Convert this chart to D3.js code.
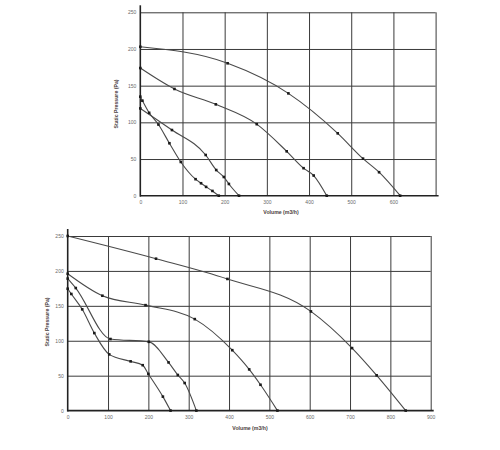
<!DOCTYPE html>
<html>
<head>
<meta charset="utf-8">
<script src="https://cdn.jsdelivr.net/npm/d3@7"></script>
<style>
  html, body { margin: 0; padding: 0; background: #fff; }
  svg { display: block; }
  .tick text { font-family: "Liberation Sans", Arial, sans-serif; }
</style>
</head>
<body>
<svg id="chart" width="500" height="450"></svg>
<script>
// ---------- Data (Volume m3/h, Static Pressure Pa) ----------
// Top chart
const topXTicks = [0, 100, 200, 300, 400, 500, 600];
const topXGrid = [100, 200, 300, 400, 500, 600, 700];
const topYTicks = [0, 50, 100, 150, 200, 250];
const topCurveA = [[0, 203], [207, 180.5], [351, 139.5], [468, 85], [528, 50.5], [566, 32], [616, 0]];
const topCurveB = [[0, 174], [81, 145.5], [179, 124.5], [276, 97.5], [347, 60.5], [387, 37.5], [411, 27.5], [442, 0]];
const topCurveC = [[0, 119], [75, 89.5], [155, 55.5], [180, 35], [198, 25.5], [210, 16], [234, 0]];
const topCurveD = [[0, 135], [5, 129.5], [21, 113], [43, 97], [69, 71.5], [96, 46], [131, 22.5], [144, 17], [156, 12], [171, 6.5], [186, 0]];

// Bottom chart
const botXTicks = [0, 100, 200, 300, 400, 500, 600, 700, 800, 900];
const botXGrid = [100, 200, 300, 400, 500, 600, 700, 800, 900];
const botYTicks = [0, 50, 100, 150, 200, 250];
const botCurve1 = [[0, 250], [219, 217.5], [396, 188.5], [603, 142], [705, 89.5], [766, 50.5], [838, 0]];
const botCurve2 = [[0, 196], [86, 164.5], [193, 151], [315, 131], [408, 86.5], [450, 59], [478, 37], [520, 0]];
const botCurve3 = [[0, 189], [20, 175.5], [106, 102.5], [201, 98.5], [250, 69], [273, 51], [290, 39.5], [319, 0]];
const botCurve4 = [[0, 174.5], [9, 167], [36, 145], [66, 111], [103, 80.5], [156, 70.5], [186, 65], [200, 52.5], [236, 20], [255, 0]];

const yTitle = "Static Pressure (Pa)";
const xTitle = "Volume (m3/h)";

// ---------- Drawing ----------
const svg = d3.select("#chart");
const FONT = "'Liberation Sans', Arial, sans-serif";

function drawPanel(cfg) {
  const x = d3.scaleLinear().domain(cfg.xDomain).range(cfg.xRange);
  const y = d3.scaleLinear().domain(cfg.yDomain).range(cfg.yRange);
  const g = svg.append("g");

  // vertical grid lines
  g.append("g")
    .attr("transform", `translate(0,${y(0)})`)
    .call(d3.axisBottom(x).tickValues(cfg.xGrid).tickFormat("")
      .tickSizeInner(-(y(0) - y(cfg.yDomain[1]))).tickSizeOuter(0))
    .call(s => s.select(".domain").remove())
    .selectAll("line").attr("stroke", "#3a3a3a").attr("stroke-width", 1);

  // horizontal grid lines
  g.append("g")
    .attr("transform", `translate(${x(0)},0)`)
    .call(d3.axisLeft(y).tickValues(cfg.yTicks.filter(v => v > 0)).tickFormat("")
      .tickSizeInner(-(x(cfg.xDomain[1]) - x(0))).tickSizeOuter(0))
    .call(s => s.select(".domain").remove())
    .selectAll("line").attr("stroke", "#3a3a3a").attr("stroke-width", 1);

  // axis lines
  g.append("line")
    .attr("x1", x(0)).attr("x2", x(cfg.xDomain[1]) + 3)
    .attr("y1", y(0)).attr("y2", y(0))
    .attr("stroke", "#222").attr("stroke-width", 1.6);
  g.append("line")
    .attr("x1", x(0)).attr("x2", x(0))
    .attr("y1", y(0) + 1).attr("y2", y(cfg.yDomain[1]) - 7)
    .attr("stroke", "#222").attr("stroke-width", 1.6);

  // tick labels
  const xl = g.append("g")
    .attr("transform", `translate(0,${y(0)})`)
    .call(d3.axisBottom(x).tickValues(cfg.xTicks).tickSize(0).tickPadding(5));
  xl.select(".domain").remove();
  xl.selectAll("text").attr("font-size", 5).attr("fill", "#6a6a6a")
    .attr("font-family", FONT);

  const yl = g.append("g")
    .attr("transform", `translate(${x(0)},0)`)
    .call(d3.axisLeft(y).tickValues(cfg.yTicks).tickSize(0).tickPadding(4));
  yl.select(".domain").remove();
  yl.selectAll("text").attr("font-size", 5).attr("fill", "#6a6a6a")
    .attr("font-family", FONT);

  // curves
  const line = d3.line().x(d => x(d[0])).y(d => y(d[1])).curve(d3.curveMonotoneX);
  cfg.curves.forEach(c => {
    g.append("path").attr("d", line(c))
      .attr("fill", "none").attr("stroke", "#4a4a4a").attr("stroke-width", 1.1);
    g.selectAll(null).data(c).enter().append("rect")
      .attr("x", d => x(d[0]) - 1.3).attr("y", d => y(d[1]) - 1.3)
      .attr("width", 2.6).attr("height", 2.6).attr("fill", "#1a1a1a");
  });

  // titles
  g.append("text")
    .attr("transform", `translate(${cfg.yTitlePos[0]},${cfg.yTitlePos[1]}) rotate(-90)`)
    .attr("text-anchor", "middle").attr("dominant-baseline", "middle")
    .attr("font-family", FONT).attr("font-size", 5.2).attr("font-weight", "bold")
    .attr("fill", "#4a4040").text(yTitle);
  g.append("text")
    .attr("x", cfg.xTitlePos[0]).attr("y", cfg.xTitlePos[1])
    .attr("text-anchor", "middle").attr("dominant-baseline", "middle")
    .attr("font-family", FONT).attr("font-size", 5.2).attr("font-weight", "bold")
    .attr("fill", "#4a4040").text(xTitle);
}

drawPanel({
  xDomain: [0, 700], xRange: [140.3, 435.6],
  yDomain: [0, 250], yRange: [195.7, 12.3],
  xTicks: topXTicks, xGrid: topXGrid, yTicks: topYTicks,
  curves: [topCurveA, topCurveB, topCurveC, topCurveD],
  yTitlePos: [117, 104], xTitlePos: [281, 213]
});

drawPanel({
  xDomain: [0, 900], xRange: [67.7, 430.7],
  yDomain: [0, 250], yRange: [410.6, 236],
  xTicks: botXTicks, xGrid: botXGrid, yTicks: botYTicks,
  curves: [botCurve1, botCurve2, botCurve3, botCurve4],
  yTitlePos: [47.5, 322], xTitlePos: [250, 429]
});
</script>
</body>
</html>
